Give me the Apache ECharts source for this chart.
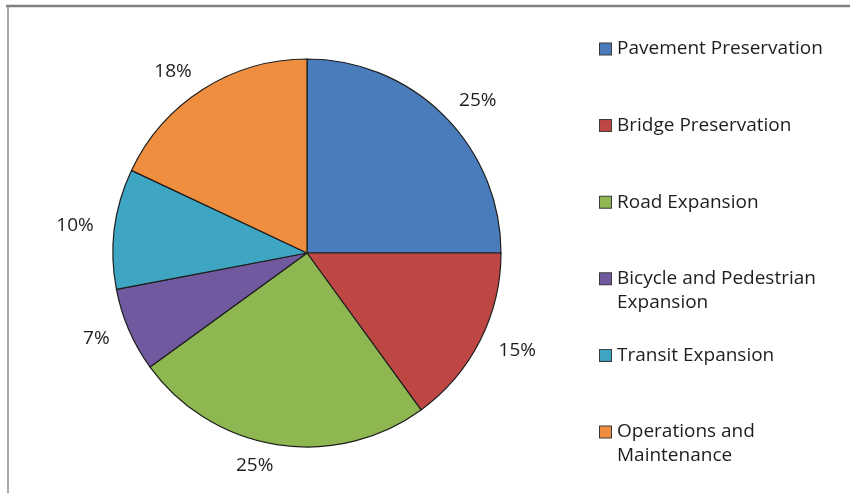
<!DOCTYPE html>
<html><head><meta charset="utf-8">
<script src="https://cdn.jsdelivr.net/npm/echarts@6/dist/echarts.min.js"></script>
<style>html,body{margin:0;padding:0;background:#fff}#c{width:850px;height:493px}</style>
</head><body><div id="c"></div>
<script>
// ---- data ----
const categories = ['Pavement Preservation', 'Bridge Preservation', 'Road Expansion',
  'Bicycle and Pedestrian Expansion', 'Transit Expansion', 'Operations and Maintenance'];
const shares = [25, 15, 25, 7, 10, 18];
const legendLines = [
  ['Pavement Preservation'],
  ['Bridge Preservation'],
  ['Road Expansion'],
  ['Bicycle and Pedestrian', 'Expansion'],
  ['Transit Expansion'],
  ['Operations and', 'Maintenance']
];
// ---- styles ----
const colors = ['#4a7bba', '#bf4743', '#8fb751', '#7159a0', '#3ea6c3', '#ef8e3e'];
const FONT = 'Open Sans';

const rich = {
  t: { fontFamily: FONT, fontSize: 19, color: '#1e1e1e', lineHeight: 24, padding: [0, 0, 0, 6] },
  s: { width: 11, height: 11, lineHeight: 24 }
};
colors.forEach((c, i) => {
  rich['k' + i] = { width: 11, height: 11, lineHeight: 24, backgroundColor: c, borderColor: '#3a3a3a', borderWidth: 1 };
});

const chart = echarts.init(document.getElementById('c'), null, { renderer: 'canvas' });
chart.setOption({
  animation: false,
  backgroundColor: '#fff',
  color: colors,
  graphic: [
    { type: 'line', shape: { x1: 6, y1: 6, x2: 850, y2: 6 }, style: { stroke: '#7f7f7f', lineWidth: 2.5 }, silent: true },
    { type: 'line', shape: { x1: 8, y1: 5, x2: 8, y2: 493 }, style: { stroke: '#8c8c8c', lineWidth: 1.5 }, silent: true }
  ],
  legend: {
    orient: 'vertical',
    left: 593,
    top: 39.5,
    padding: 0,
    icon: 'none',
    itemWidth: 2,
    itemHeight: 11,
    itemGap: 33.6,
    selectedMode: false,
    data: categories,
    formatter: function (name) {
      const i = categories.indexOf(name);
      const ln = legendLines[i];
      return '{k' + i + '|}{t|' + ln[0] + '}\n{s|}{t|' + (ln[1] || '') + '}';
    },
    textStyle: { fontFamily: FONT, fontSize: 19, color: '#1e1e1e', rich: rich }
  },
  series: [{
    type: 'pie',
    center: [307, 253],
    radius: 194,
    startAngle: 90,
    clockwise: true,
    avoidLabelOverlap: false,
    silent: true,
    emphasis: { disabled: true },
    itemStyle: { borderColor: '#1e1e1e', borderWidth: 1.2 },
    label: {
      show: true,
      position: 'outside',
      formatter: '{c}%',
      fontFamily: FONT,
      fontSize: 19,
      color: '#1e1e1e',
      distanceToLabelLine: 0
    },
    labelLine: { show: false, length: 21, length2: 0 },
    data: categories.map((n, i) => ({ name: n, value: shares[i] }))
  }]
});
</script></body></html>
